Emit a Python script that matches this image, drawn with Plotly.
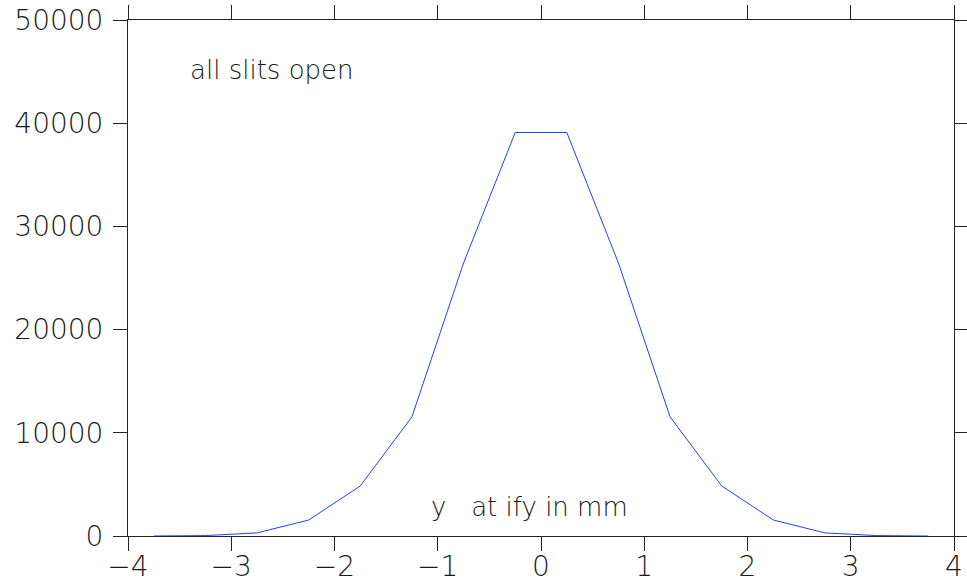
import plotly.graph_objects as go

x_mm = [-3.75, -3.25, -2.75, -2.25, -1.75, -1.25, -0.75, -0.25,
        0.25, 0.75, 1.25, 1.75, 2.25, 2.75, 3.25, 3.75]
counts = [0, 40, 300, 1550, 4850, 11550, 26450, 39100,
          39100, 26450, 11550, 4850, 1550, 300, 40, 0]
x_ticks = [-4, -3, -2, -1, 0, 1, 2, 3, 4]
x_tick_labels = ["\u22124", "\u22123", "\u22122", "\u22121", "0", "1", "2", "3", "4"]
y_ticks = [0, 10000, 20000, 30000, 40000, 50000]
label_title = "all slits open"
label_axis = "y   at ify in mm"

FONT = dict(family="DejaVu Sans", size=28, color="#1a1a1a", weight=200)
ANN_FONT = dict(family="DejaVu Sans", size=26, color="#1a1a1a", weight=200)

fig = go.Figure()
fig.add_trace(go.Scatter(x=x_mm, y=counts, mode="lines",
                         line=dict(color="#2040ff", width=1), showlegend=False))

axis_common = dict(showgrid=False, zeroline=False, showline=True, linecolor="#222",
                   linewidth=1, mirror="ticks", ticks="outside", ticklen=14,
                   tickwidth=1, tickcolor="#222", tickfont=FONT, automargin=False)

fig.update_xaxes(range=[-4, 4], tickvals=x_ticks, ticktext=x_tick_labels,
                 ticklabelstandoff=-9, **axis_common)
fig.update_yaxes(range=[0, 50000], tickvals=y_ticks, ticktext=[str(v) for v in y_ticks],
                 ticklabelstandoff=4, **axis_common)

fig.add_annotation(x=-2.605, y=45155, text=label_title, showarrow=False, font=ANN_FONT)
fig.add_annotation(x=-0.107, y=2810, text=label_axis, showarrow=False, font=ANN_FONT)

fig.update_layout(width=967, height=583, margin=dict(l=128, r=13, t=20, b=47, autoexpand=False),
                  plot_bgcolor="white", paper_bgcolor="white")
fig.write_html("out.html")
